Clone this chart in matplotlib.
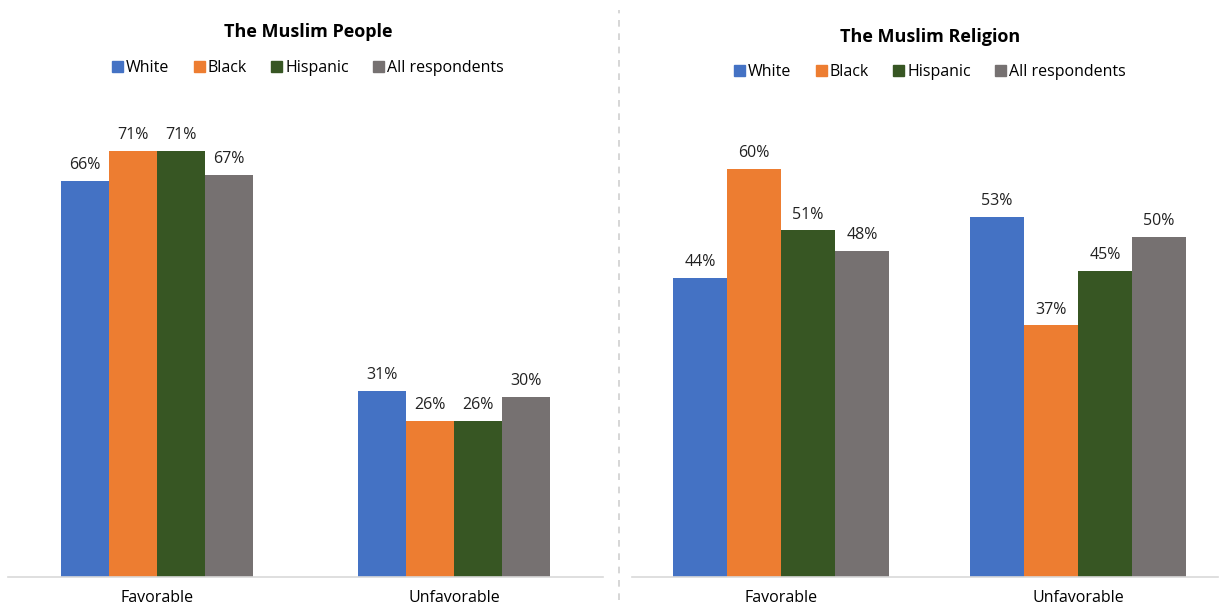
import matplotlib.pyplot as plt
import numpy as np
from matplotlib.lines import Line2D

# 資料
categories = ['Favorable', 'Unfavorable']
groups = ['White', 'Black', 'Hispanic', 'All respondents']
colors = ['#4472C4', '#ED7D31', '#375623', '#767171']

people_vals = [
    [66, 31],   # White
    [71, 26],   # Black
    [71, 26],   # Hispanic
    [67, 30],   # All respondents
]
religion_vals = [
    [44, 53],
    [60, 37],
    [51, 45],
    [48, 50],
]

plt.rcParams['font.family'] = ['Open Sans', 'DejaVu Sans']

W, H = 1221, 607
fig = plt.figure(figsize=(W / 100, H / 100), dpi=100)


def draw_panel(rect, vals, title, ymax, group_w, xlim, title_x, title_y, legend_y):
    ax = fig.add_axes(rect)
    x = np.arange(len(categories))
    bw = group_w / len(groups)
    for i, (g, c) in enumerate(zip(groups, colors)):
        pos = x - group_w / 2 + bw * (i + 0.5)
        bars = ax.bar(pos, vals[i], bw, color=c, label=g, zorder=2)
        for b, v in zip(bars, vals[i]):
            ax.text(b.get_x() + b.get_width() / 2, v + ymax * 0.016, f'{v}%',
                    ha='center', va='bottom', fontsize=11.5, color='#222222')
    ax.set_xlim(*xlim)
    ax.set_ylim(0, ymax)
    ax.set_xticks(x)
    ax.set_xticklabels(categories, fontsize=11.5)
    ax.tick_params(axis='x', length=0, pad=9)
    ax.set_yticks([])
    for s in ['top', 'right', 'left']:
        ax.spines[s].set_visible(False)
    ax.spines['bottom'].set_color('#D9D9D9')
    ax.spines['bottom'].set_linewidth(1.2)

    fig.text(title_x, title_y, title, ha='center', va='center',
             fontsize=13, fontweight='bold')
    handles = [plt.Rectangle((0, 0), 1, 1, color=c) for c in colors]
    fig.legend(handles=handles, labels=groups, loc='center',
               bbox_to_anchor=(title_x, legend_y),
               ncol=4, frameon=False, fontsize=11.5, handlelength=0.7,
               handleheight=0.7, handletextpad=0.2, columnspacing=1.5)
    return ax


draw_panel([8 / W, 30 / H, 595 / W, 480 / H], people_vals,
           'The Muslim People', 80, 0.647, (-0.5, 1.5),
           308 / W, 1 - 32 / H, 1 - 68 / H)
draw_panel([632 / W, 30 / H, 586 / W, 476 / H], religion_vals,
           'The Muslim Religion', 70, 0.727, (-0.502, 1.471),
           930 / W, 1 - 37 / H, 1 - 72 / H)

# 中間分隔虛線
fig.add_artist(Line2D([619 / W, 619 / W], [7 / H, 1 - 10 / H], color='#D0D0D0',
                      linestyle=(0, (4, 4)), linewidth=1.2))

plt.savefig('out.png', dpi=100)
